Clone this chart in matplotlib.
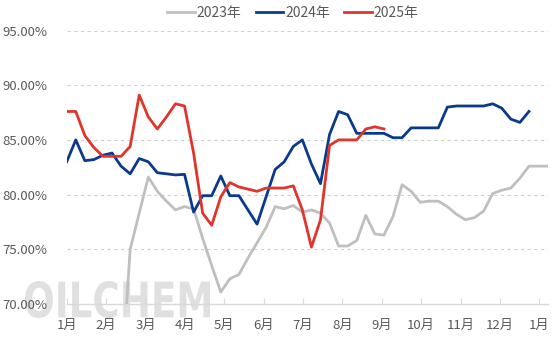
import numpy as np
import matplotlib
matplotlib.use("Agg")
import matplotlib.pyplot as plt
from matplotlib.textpath import TextPath
from matplotlib.patches import PathPatch
from matplotlib.font_manager import FontProperties
from matplotlib.transforms import Affine2D

plt.rcParams['font.family'] = ['Noto Sans CJK SC', 'DejaVu Sans']

# weekly operating rate, %
rate_2023 = [np.nan] * 6 + [
    62.0, 75.0, 78.3, 81.6, 80.3, 79.4, 78.6, 78.9, 78.7, 76.0,
    73.5, 71.1, 72.3, 72.7, 74.2, 75.6, 77.0, 78.9, 78.7, 79.0,
    78.4, 78.6, 78.3, 77.4, 75.3, 75.3, 75.8, 78.1, 76.4, 76.3,
    78.0, 80.9, 80.3, 79.3, 79.4, 79.4, 78.9, 78.2, 77.7, 77.9,
    78.5, 80.1, 80.4, 80.6, 81.5, 82.6, 82.6, 82.6]
rate_2024 = [
    83.0, 85.0, 83.1, 83.2, 83.6, 83.8, 82.6, 81.9, 83.3, 83.0,
    82.0, 81.9, 81.8, 81.85, 78.4, 79.9, 79.9, 81.7, 79.9, 79.9,
    78.6, 77.3, 79.8, 82.3, 83.0, 84.4, 85.0, 82.8, 81.0, 85.5,
    87.6, 87.3, 85.6, 85.6, 85.6, 85.6, 85.2, 85.2, 86.1, 86.1,
    86.1, 86.1, 88.0, 88.1, 88.1, 88.1, 88.1, 88.3, 87.9, 86.9,
    86.6, 87.6]
rate_2025 = [
    87.6, 87.6, 85.4, 84.3, 83.5, 83.5, 83.5, 84.4, 89.1, 87.1,
    86.0, 87.1, 88.3, 88.1, 83.8, 78.3, 77.2, 79.8, 81.1, 80.7,
    80.5, 80.3, 80.6, 80.6, 80.6, 80.8, 78.6, 75.2, 77.7, 84.5,
    85.0, 85.0, 85.0, 86.0, 86.2, 86.0]

months = ['1月', '2月', '3月', '4月', '5月', '6月', '7月', '8月',
          '9月', '10月', '11月', '12月', '1月']
yticks = [70, 75, 80, 85, 90, 95]

weeks_per_month = 52.14 / 12

fig = plt.figure(figsize=(5.54, 3.43), dpi=100)

# watermark, stretched into a fixed pixel box
tp = TextPath((0, 0), 'OILCHEM', size=1,
              prop=FontProperties(family='DejaVu Sans', weight='bold'))
ext = tp.get_extents()
wm_tr = (Affine2D().translate(-ext.x0, -ext.y0)
         .scale(185 / ext.width, 37 / ext.height)
         .translate(25, 343 - 318))
fig.add_artist(PathPatch(tp, transform=wm_tr, fc='#c8c8c8', ec='none',
                         alpha=0.55, zorder=0))

ax = fig.add_axes([66.7 / 554, 1 - 304 / 343, (548 - 66.7) / 554, (304 - 30.5) / 343])
ax.patch.set_visible(False)

ax.plot(np.arange(len(rate_2023)), rate_2023, color='#bfbfbf', lw=2.0, label='2023年', zorder=3)
ax.plot(np.arange(len(rate_2024)), rate_2024, color='#0a3a8c', lw=2.0, label='2024年', zorder=4)
ax.plot(np.arange(len(rate_2025)), rate_2025, color='#e0352b', lw=2.0, label='2025年', zorder=5)

ax.set_ylim(70, 95)
ax.set_xlim(0, 53.1)
ax.set_yticks(yticks)
ax.set_yticklabels([f'{v:.2f}%' for v in yticks])
ax.set_xticks([m * weeks_per_month for m in range(len(months))])
ax.set_xticklabels(months)

for v in yticks[1:]:
    ax.axhline(v, color='#d0d0d0', lw=0.8, ls=(0, (3, 3)), zorder=1)

for s in ['top', 'right', 'left']:
    ax.spines[s].set_visible(False)
ax.spines['bottom'].set_color('#d9d9d9')
ax.spines['bottom'].set_linewidth(1.0)

ax.tick_params(axis='y', length=0, labelsize=9.5, labelcolor='#595959', pad=14)
ax.tick_params(axis='x', direction='in', length=4, color='#d9d9d9',
               labelsize=9.5, labelcolor='#595959', pad=11)

leg = ax.legend(loc='upper center', bbox_to_anchor=(0.5 - 0.03, 1.11), ncol=3,
                frameon=False, fontsize=10, handlelength=2.0, handletextpad=0.15,
                columnspacing=1.0, borderaxespad=0)
for t in leg.get_texts():
    t.set_color('#595959')

fig.savefig('out.png', dpi=100)
